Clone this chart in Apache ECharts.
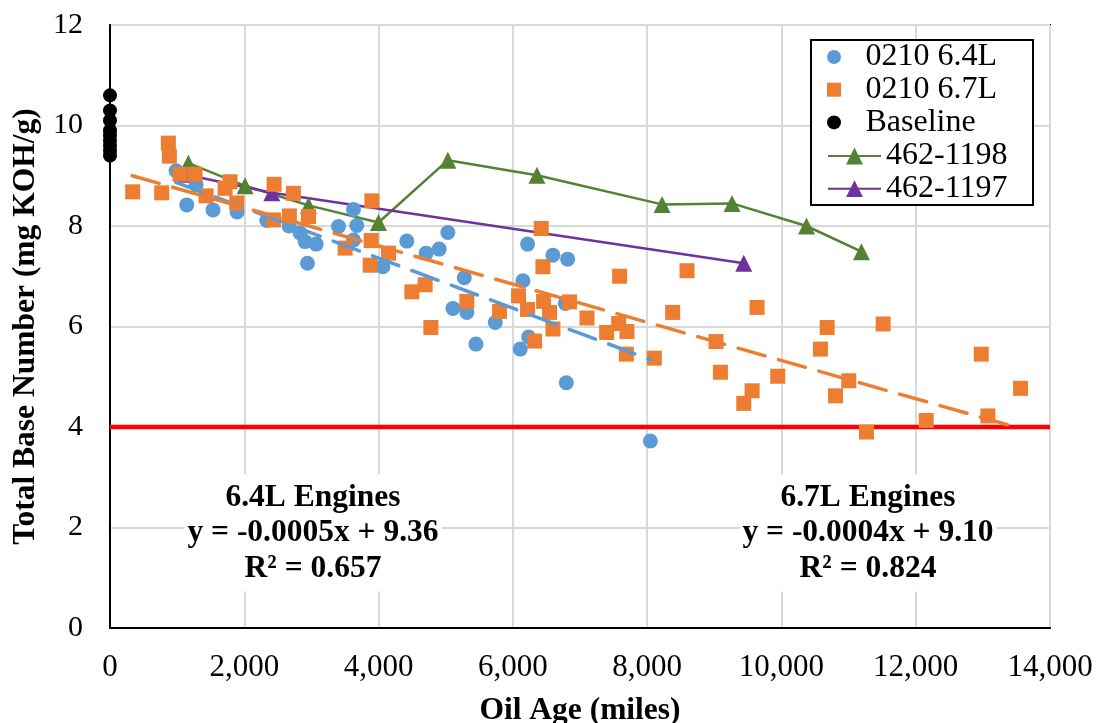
<!DOCTYPE html>
<html><head><meta charset="utf-8">
<script src="https://cdn.jsdelivr.net/npm/echarts@6/dist/echarts.min.js"></script>
<style>html,body{margin:0;padding:0;background:#fff}#c{width:1099px;height:723px}</style>
</head><body><div id="c"></div>
<script>
// ---- data (oil age in miles, TBN in mg KOH/g) ----
const baselineMiles = [0, 0, 0, 0, 0, 0, 0, 0, 0];
const baselineTBN   = [10.6, 10.3, 10.1, 9.9, 9.8, 9.7, 9.6, 9.5, 9.4];

const e64Miles = [984, 1282, 1143, 1535, 1893, 2335, 2668, 2832, 2906, 3070, 2941, 3403, 3626, 3676, 3626, 4064, 4421, 4709, 4903, 5032, 5276, 5107, 5315, 5738, 5450, 6219, 6150, 6597, 6816, 6235, 6110, 6781, 6796, 8048];
const e64TBN   = [9.1, 8.82, 8.42, 8.32, 8.28, 8.11, 8.0, 7.86, 7.69, 7.64, 7.26, 7.99, 8.33, 8.01, 7.72, 7.19, 7.70, 7.46, 7.54, 7.87, 6.97, 6.36, 6.28, 6.08, 5.65, 7.64, 6.91, 7.42, 7.34, 5.79, 5.55, 6.46, 4.88, 3.72];

const e67Miles = [338, 770, 869, 884, 1043, 1267, 1431, 1714, 1788, 1888, 2444, 2732, 2434, 2672, 2956, 3900, 3502, 3890, 4148, 3875, 4496, 4694, 4779, 5315, 5802, 6423, 6448, 6085, 6219, 6458, 6547, 6597, 6324, 6845, 7104, 7590, 7397, 7576, 7700, 7690, 8107, 8594, 8380, 9637, 9026, 9091, 9945, 9563, 9439, 10681, 10581, 11003, 10805, 11515, 11267, 12156, 12976, 13075, 13562];
const e67TBN   = [8.68, 8.66, 9.65, 9.39, 9.03, 9.03, 8.60, 8.75, 8.88, 8.46, 8.83, 8.65, 8.12, 8.20, 8.19, 8.50, 7.56, 7.71, 7.46, 7.22, 6.69, 6.83, 5.98, 6.50, 6.30, 7.95, 7.19, 6.61, 6.34, 6.50, 6.28, 5.95, 5.71, 6.49, 6.17, 7.00, 5.88, 6.06, 5.90, 5.45, 5.37, 7.11, 6.28, 6.38, 5.70, 5.09, 5.01, 4.72, 4.47, 5.98, 5.55, 4.92, 4.62, 6.05, 3.90, 4.13, 5.45, 4.22, 4.77];

const t1198Miles = [1167, 2012, 2956, 3999, 5032, 6359, 8222, 9265, 10373, 11192];
const t1198TBN   = [9.25, 8.80, 8.41, 8.07, 9.31, 9.01, 8.43, 8.45, 8.00, 7.49];

const t1197Miles = [1103, 2410, 9439];
const t1197TBN   = [9.03, 8.66, 7.26];

const trend64Miles = [980, 8050];
const trend64TBN   = [8.87, 5.34];
const trend67Miles = [330, 13560];
const trend67TBN   = [9.00, 3.97];

const limitMiles = [0, 14000];
const limitTBN   = [4, 4];

const xTickMin = 0, xTickMax = 14000, xTickStep = 2000;
const yTickMin = 0, yTickMax = 12, yTickStep = 2;

const note64 = ['6.4L Engines', 'y = -0.0005x + 9.36', 'R\u00B2 = 0.657'];
const note67 = ['6.7L Engines', 'y = -0.0004x + 9.10', 'R\u00B2 = 0.824'];

// ---- chart ----
const zip = (a, b) => a.map((v, i) => [v, b[i]]);
const FONT = '"Liberation Serif","Times New Roman",serif';
const chart = echarts.init(document.getElementById('c'), null, {renderer: 'canvas'});

const legendText = {fontFamily: FONT, fontSize: 32, color: '#000', lineHeight: 32};
const SQUARE = 'path://M0 0H10V10H0Z';

chart.setOption({
  animation: false,
  backgroundColor: '#fff',
  grid: {left: 110, right: 49, top: 25, bottom: 95, show: true, borderColor: '#000', borderWidth: 2,
         backgroundColor: 'transparent', containLabel: false, outerBoundsMode: 'none'},
  xAxis: {
    type: 'value', min: xTickMin, max: xTickMax, interval: xTickStep,
    name: 'Oil Age (miles)', nameLocation: 'middle', nameGap: 67,
    nameTextStyle: {fontFamily: FONT, fontSize: 31.5, fontWeight: 'bold', color: '#000'},
    axisLine: {show: true, lineStyle: {color: '#000', width: 2}},
    axisTick: {show: false},
    axisLabel: {fontFamily: FONT, fontSize: 31, color: '#000', margin: 24,
      formatter: v => v.toLocaleString('en-US')},
    splitLine: {show: true, lineStyle: {color: '#d9d9d9', width: 2}}
  },
  yAxis: {
    type: 'value', min: yTickMin, max: yTickMax, interval: yTickStep,
    name: 'Total Base Number (mg KOH/g)', nameLocation: 'middle', nameGap: 67, nameRotate: 90,
    nameTextStyle: {fontFamily: FONT, fontSize: 31.5, fontWeight: 'bold', color: '#000'},
    axisLine: {show: true, lineStyle: {color: '#000', width: 2}},
    axisTick: {show: false},
    axisLabel: {fontFamily: FONT, fontSize: 30, color: '#000', margin: 27},
    splitLine: {show: true, lineStyle: {color: '#d9d9d9', width: 2}}
  },
  legend: [
    {data: [{name: '0210 6.4L', icon: 'circle'}, {name: '0210 6.7L', icon: SQUARE}, {name: 'Baseline', icon: 'circle'}],
     orient: 'vertical', left: 827, top: 41, padding: 0, symbolKeepAspect: true,
     itemWidth: 53, itemHeight: 14, itemGap: 0.7, textStyle: legendText, selectedMode: false},
    {data: ['462-1198', '462-1197'], orient: 'vertical', left: 827, top: 140, padding: 0,
     itemWidth: 53, itemHeight: 21, itemGap: 0.7, textStyle: legendText, selectedMode: false}
  ],
  graphic: [
    {type: 'rect', z: 3, shape: {x: 811, y: 40, width: 222, height: 165},
     style: {fill: '#fff', stroke: '#000', lineWidth: 2}},
    {type: 'text', z: 1, x: 313, y: 474,
     style: {text: note64.join('\n'), font: 'bold 31.5px ' + FONT, fill: '#000', align: 'center', verticalAlign: 'top',
       lineHeight: 35.5, backgroundColor: '#fff', padding: [6, 3, 5, 3]}},
    {type: 'text', z: 1, x: 868, y: 474,
     style: {text: note67.join('\n'), font: 'bold 31.5px ' + FONT, fill: '#000', align: 'center', verticalAlign: 'top',
       lineHeight: 35.5, backgroundColor: '#fff', padding: [6, 3, 5, 3]}}
  ],
  series: [
    {name: 'limit', type: 'line', data: zip(limitMiles, limitTBN), symbol: 'none', silent: true,
     lineStyle: {color: '#ff0000', width: 4.5}, z: 2},
    {name: '462-1198', type: 'line', data: zip(t1198Miles, t1198TBN), symbol: 'triangle', symbolSize: 17,
     color: '#548235', itemStyle: {color: '#548235'}, lineStyle: {color: '#548235', width: 2.5}, z: 3},
    {name: '462-1197', type: 'line', data: zip(t1197Miles, t1197TBN), symbol: 'triangle', symbolSize: 17,
     color: '#7030a0', itemStyle: {color: '#7030a0'}, lineStyle: {color: '#7030a0', width: 2.5}, z: 3},
    {name: '0210 6.4L', type: 'scatter', data: zip(e64Miles, e64TBN), symbol: 'circle', symbolSize: 15,
     itemStyle: {color: '#5b9bd5', opacity: 1}, z: 4},
    {name: '0210 6.7L', type: 'scatter', data: zip(e67Miles, e67TBN), symbol: 'rect', symbolSize: 15,
     itemStyle: {color: '#ed7d31', opacity: 1}, z: 5},
    {name: 'Baseline', type: 'scatter', data: zip(baselineMiles, baselineTBN), symbol: 'circle', symbolSize: 14,
     itemStyle: {color: '#000', opacity: 1}, z: 6, clip: false},
    {name: 'trend64', type: 'line', data: zip(trend64Miles, trend64TBN), symbol: 'none', silent: true,
     lineStyle: {color: '#5b9bd5', width: 3.5, type: [28, 14], cap: 'round'}, z: 7},
    {name: 'trend67', type: 'line', data: zip(trend67Miles, trend67TBN), symbol: 'none', silent: true,
     lineStyle: {color: '#ed7d31', width: 3.5, type: [28, 14], cap: 'round'}, z: 7}
  ]
});
</script></body></html>
